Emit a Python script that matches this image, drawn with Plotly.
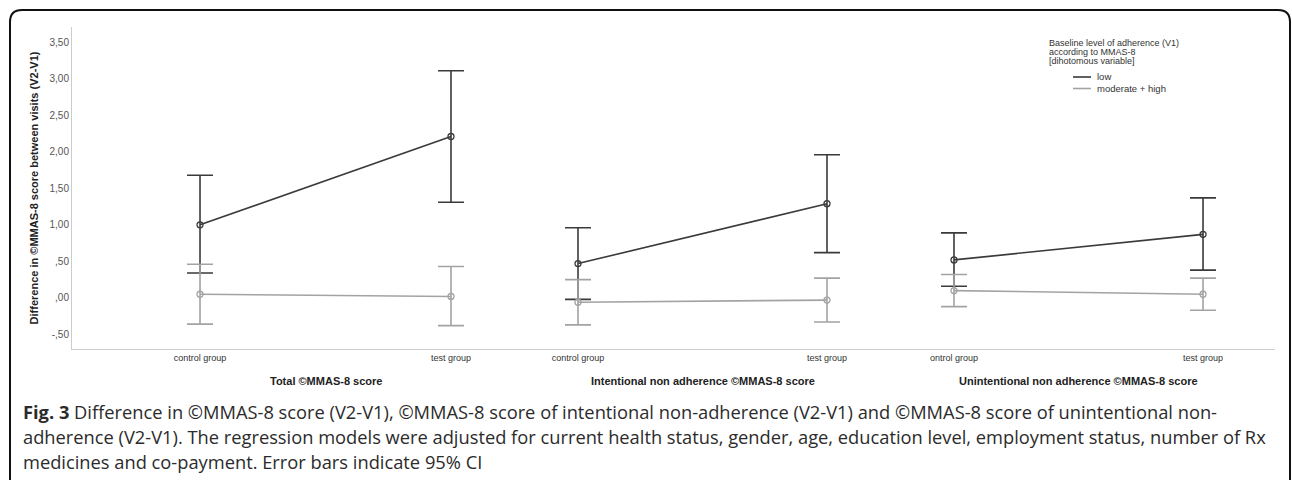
import plotly.graph_objects as go

# ---------------- data ----------------
categories = ["control group", "test group"]
tick_labels = [["control group", "test group"],
               ["control group", "test group"],
               ["ontrol group", "test group"]]
panel_titles = ["Total ©MMAS-8 score",
                "Intentional non adherence ©MMAS-8 score",
                "Unintentional non adherence ©MMAS-8 score"]
series_names = ["low", "moderate + high"]
legend_title_lines = ["Baseline level of adherence (V1)",
                      "according to MMAS-8",
                      "[dihotomous variable]"]

low_mean = [[1.00, 2.21], [0.47, 1.29], [0.52, 0.87]]
low_lo = [[0.34, 1.31], [-0.02, 0.62], [0.16, 0.38]]
low_hi = [[1.68, 3.11], [0.96, 1.96], [0.89, 1.37]]

mod_mean = [[0.05, 0.02], [-0.06, -0.03], [0.10, 0.05]]
mod_lo = [[-0.36, -0.38], [-0.37, -0.33], [-0.12, -0.17]]
mod_hi = [[0.46, 0.43], [0.25, 0.27], [0.32, 0.27]]

y_ticks = [-0.5, 0.0, 0.5, 1.0, 1.5, 2.0, 2.5, 3.0, 3.5]
y_tick_text = ["-,50", ",00", ",50", "1,00", "1,50", "2,00", "2,50", "3,00", "3,50"]

caption_lines = [
    "<b>Fig. 3</b> Difference in ©MMAS-8 score (V2-V1), ©MMAS-8 score of intentional non-adherence (V2-V1) and ©MMAS-8 score of unintentional non-",
    "adherence (V2-V1). The regression models were adjusted for current health status, gender, age, education level, employment status, number of Rx",
    "medicines and co-payment. Error bars indicate 95% CI",
]

# ---------------- style ----------------
COL_LOW = "#3a3a3a"
COL_MOD = "#a3a3a3"
FONT = "Liberation Sans, Arial, sans-serif"

W, H = 1292, 480
L, R, T, B = 72, 17, 27, 131
PW, PH = W - L - R, H - T - B

def px_x(p):
    return (p - L) / PW

def px_y(p):
    return (H - B - p) / PH

domains = [[0.0, px_x(514.5)], [px_x(514.5), px_x(890.5)], [px_x(890.5), 1.0]]
ranges = [[-0.51, 1.253], [-0.255, 1.255], [-0.255, 1.289]]

fig = go.Figure()

for i in range(3):
    xa = "x" if i == 0 else f"x{i+1}"
    for name, mean, lo, hi, col in [
        (series_names[0], low_mean, low_lo, low_hi, COL_LOW),
        (series_names[1], mod_mean, mod_lo, mod_hi, COL_MOD),
    ]:
        fig.add_trace(go.Scatter(
            x=categories, y=mean[i], xaxis=xa, yaxis="y",
            mode="lines+markers", name=name, showlegend=False,
            line=dict(color=col, width=1.6),
            marker=dict(symbol="circle-open", size=6, color=col, line=dict(width=1.3, color=col)),
            error_y=dict(type="data", symmetric=False,
                         array=[h - m for h, m in zip(hi[i], mean[i])],
                         arrayminus=[m - l for m, l in zip(mean[i], lo[i])],
                         color=col, thickness=1.6, width=13),
            hoverinfo="skip",
        ))

layout = dict(
    width=W, height=H,
    margin=dict(l=L, r=R, t=T, b=B),
    paper_bgcolor="white", plot_bgcolor="white",
    font=dict(family=FONT, color="#333"),
    showlegend=False,
    yaxis=dict(
        range=[-0.70, 3.71], tickvals=y_ticks, ticktext=y_tick_text,
        showgrid=False, zeroline=False, showline=True, linecolor="#cccccc", linewidth=1,
        ticks="", tickfont=dict(size=10, color="#555", family=FONT),
        title=dict(text="<b>Difference in ©MMAS-8 score between visits (V2-V1)</b>",
                   font=dict(size=11, color="#222", family=FONT), standoff=8),
    ),
)
for i in range(3):
    key = "xaxis" if i == 0 else f"xaxis{i+1}"
    layout[key] = dict(
        domain=domains[i], type="category", range=ranges[i],
        categoryorder="array", categoryarray=categories,
        tickvals=categories, ticktext=tick_labels[i],
        showgrid=False, zeroline=False, showline=True, linecolor="#cccccc", linewidth=1,
        ticks="", tickfont=dict(size=9, color="#333", family=FONT),
        anchor="y",
    )
fig.update_layout(**layout)

annotations = []
for i in range(3):
    xr = "x" if i == 0 else f"x{i+1}"
    annotations.append(dict(
        x=0.5, xref=xr, y=px_y(381), yref="paper", yanchor="middle", xanchor="center",
        text=f"<b>{panel_titles[i]}</b>", showarrow=False,
        font=dict(size=11, color="#222", family=FONT),
    ))

# legend (compact, SPSS style)
for j, t in enumerate(legend_title_lines):
    annotations.append(dict(
        x=px_x(1047), xref="paper", y=px_y(42.5 + j * 9.5), yref="paper",
        xanchor="left", yanchor="middle", text=t, showarrow=False,
        font=dict(size=9, color="#333", family=FONT),
    ))
shapes = []
for j, (name, col) in enumerate([(series_names[0], COL_LOW), (series_names[1], COL_MOD)]):
    yy = px_y(77 + j * 11.5)
    annotations.append(dict(
        x=px_x(1095), xref="paper", y=yy, yref="paper",
        xanchor="left", yanchor="middle", text=name, showarrow=False,
        font=dict(size=9.5, color="#333", family=FONT),
    ))
    shapes.append(dict(type="line", xref="paper", yref="paper",
                       x0=px_x(1073), x1=px_x(1091), y0=yy, y1=yy,
                       line=dict(color=col, width=1.6)))

for j, line in enumerate(caption_lines):
    annotations.append(dict(
        x=px_x(21), xref="paper", y=px_y(411 + j * 25), yref="paper",
        xanchor="left", yanchor="middle", text=line, showarrow=False,
        font=dict(size=18.3, color="#2b2b2b", family="Open Sans, sans-serif"),
    ))
fig.update_layout(annotations=annotations)

# rounded outer frame
lx, rx = px_x(10), px_x(1290)
ty, by = px_y(10), px_y(486)
dx, dy = 12 / PW, 12 / PH
path = (f"M {lx},{by} L {lx},{ty-dy} Q {lx},{ty} {lx+dx},{ty} "
        f"L {rx-dx},{ty} Q {rx},{ty} {rx},{ty-dy} L {rx},{by}")
shapes.append(dict(type="path", path=path, xref="paper", yref="paper",
                   line=dict(color="#111", width=2), layer="above"))
fig.update_layout(shapes=shapes)

fig.write_html(
    "out.html",
    config={"displayModeBar": False},
    post_script="document.body.style.margin='0';document.body.style.overflow='hidden';",
)
